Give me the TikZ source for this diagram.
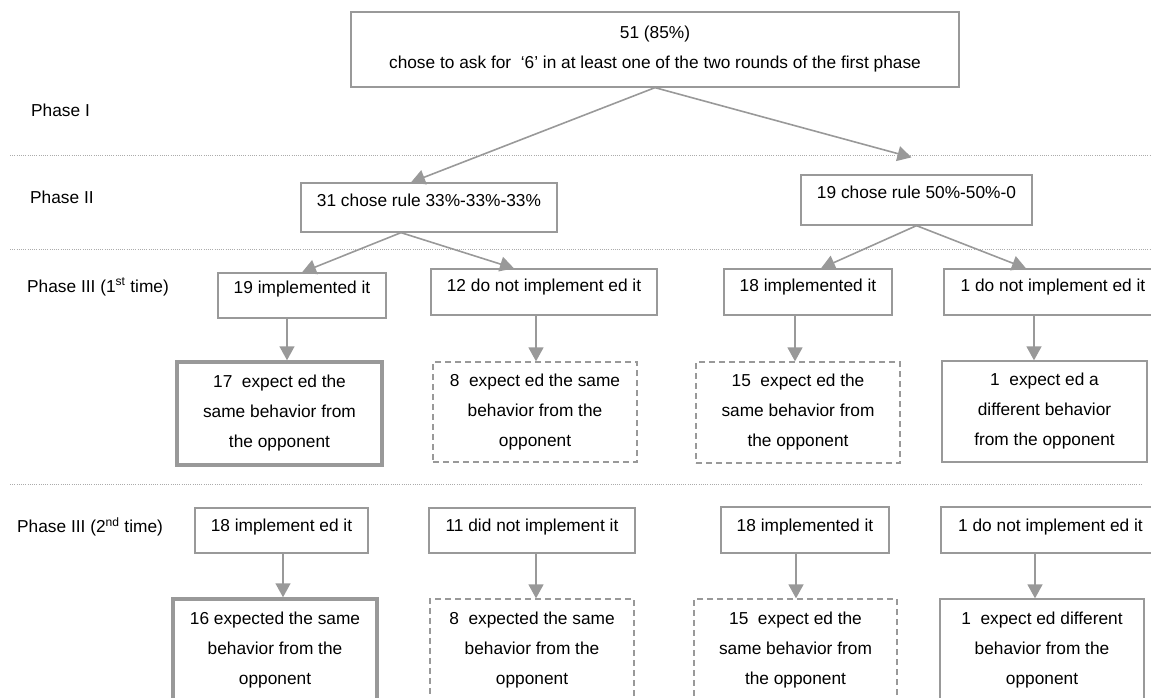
\documentclass[tikz,border=0pt]{standalone}
\usepackage{fontspec}
\setmainfont{Liberation Sans}
\usetikzlibrary{
    arrows.meta,
    positioning
}
\definecolor{linegray}{HTML}{999999}
\definecolor{dotgray}{HTML}{ABABAB}
\tikzset{
  cell/.style = {
      draw=linegray,
      line width=1.3pt,
      rectangle,
      align=center,
      inner sep=2pt,
      font=\fontsize{17.3}{30}\selectfont
  },
  strongcell/.style = {
      cell,
      line width=3.5pt
  },
  dashcell/.style = {
      cell,
      dash pattern=on 6pt off 4pt
  },
  lift/.style = {
      text depth=#1
  },
  phase/.style = {
      anchor=west,
      inner sep=0pt,
      font=\fontsize{17.3}{20}\selectfont
  },
  divider/.style = {
      draw=dotgray,
      line width=0.8pt,
      dash pattern=on 1pt off 1.2pt
  },
  link/.style = {
      draw=linegray,
      line width=1.6pt,
      -{Triangle[length=14pt,width=15pt]}
  }
}

\begin{document}
\begin{tikzpicture}[x=1pt, y=-1pt]
    \useasboundingbox (0,0) rectangle (1151,698);
    % Phase labels
    \node[phase] (p1) at (31,110) {Phase I};
    \node[phase] (p2) at (30,197) {Phase II};
    \node[phase] (p3) at (27,287) {Phase III (1\textsuperscript{st} time)};
    \node[phase] (p4) at (17,527) {Phase III (2\textsuperscript{nd} time)};
    % Dividers
    \draw[divider] (10,155) -- (1151,155);
    \draw[divider] (10,249) -- (1151,249);
    \draw[divider] (10,484) -- (1141,484);
    % Nodes
    \node[cell, minimum width=608pt, minimum height=75pt] (n51) at (655,49.5)
        {51 (85\%)\\chose to ask for~ ‘6’ in at least one of the two rounds of the first phase};
    \node[cell, lift=15pt, minimum width=256pt, minimum height=49pt] (n31) at (429,207.5) {31 chose rule 33\%-33\%-33\%};
    \node[cell, lift=15pt, minimum width=231pt, minimum height=50pt] (n19c) at (916.5,200) {19 chose rule 50\%-50\%-0};
    % first time
    \node[cell, lift=16pt, minimum width=168pt, minimum height=45pt] (n19i) at (302,295.5) {19 implemented it};
    \node[cell, lift=14pt, minimum width=226pt, minimum height=46pt] (n12) at (544,292) {12 do not implement ed it};
    \node[cell, lift=14pt, minimum width=168pt, minimum height=46pt] (n18i) at (808,292) {18 implemented it};
    \node[cell, lift=14pt, minimum width=218pt, minimum height=46pt] (n1d) at (1053,292) {1 do not implement ed it};
    \node[strongcell, minimum width=205pt, minimum height=103pt] (n17) at (279.5,413.5)
        {17~ expect ed the\\same behavior from\\the opponent};
    \node[dashcell, minimum width=204pt, minimum height=100pt] (n8) at (535,412)
        {8~ expect ed the same\\behavior from the\\opponent};
    \node[dashcell, minimum width=204pt, minimum height=101pt] (n15) at (798,412.5)
        {15~ expect ed the\\same behavior from\\the opponent};
    \node[cell, minimum width=205pt, minimum height=101pt] (n1e) at (1044.5,411.5)
        {1~ expect ed a\\different behavior\\from the opponent};
    % second time
    \node[cell, lift=10pt, minimum width=173pt, minimum height=45pt] (m18) at (281.5,530.5) {18 implement ed it};
    \node[cell, lift=10pt, minimum width=206pt, minimum height=45pt] (m11) at (532,530.5) {11 did not implement it};
    \node[cell, lift=10pt, minimum width=168pt, minimum height=46pt] (m18i) at (805,530) {18 implemented it};
    \node[cell, lift=10pt, minimum width=219pt, minimum height=46pt] (m1d) at (1050.5,530) {1 do not implement ed it};
    \node[strongcell, minimum width=204pt, minimum height=103pt] (m16) at (275,650.5)
        {16 expected the same\\behavior from the\\opponent};
    \node[dashcell, minimum width=204pt, minimum height=103pt] (m8) at (532,650.5)
        {8~ expected the same\\behavior from the\\opponent};
    \node[dashcell, minimum width=203pt, minimum height=103pt] (m15) at (795.5,650.5)
        {15~ expect ed the\\same behavior from\\the opponent};
    \node[cell, minimum width=204pt, minimum height=103pt] (m1e) at (1042,650.5)
        {1~ expect ed different\\behavior from the\\opponent};
    % Edges
    \path[every edge/.style={link}]
    (n51.south) edge ([xshift=-18pt]n31.north)
    (n51.south) edge ([xshift=-5pt, yshift=17pt]n19c.north)
    ([xshift=-28pt]n31.south) edge (n19i.north)
    ([xshift=-28pt]n31.south) edge ([xshift=-30pt]n12.north)
    (n19c.south) edge ([xshift=13pt]n18i.north)
    (n19c.south) edge ([xshift=-27pt]n1d.north)
    ([xshift=-15pt]n19i.south) edge ([xshift=7.5pt]n17.north)
    ([xshift=-8pt]n12.south) edge ([xshift=1pt]n8.north)
    ([xshift=-13pt]n18i.south) edge ([xshift=-3pt]n15.north)
    ([xshift=-19pt]n1d.south) edge ([xshift=-10.5pt]n1e.north)
    ([xshift=1.5pt]m18.south) edge ([xshift=8pt]m16.north)
    ([xshift=4pt]m11.south) edge ([xshift=4pt]m8.north)
    ([xshift=-9pt]m18i.south) edge ([xshift=0.5pt]m15.north)
    ([xshift=-15.5pt]m1d.south) edge ([xshift=-7pt]m1e.north);
\end{tikzpicture}
\end{document}
